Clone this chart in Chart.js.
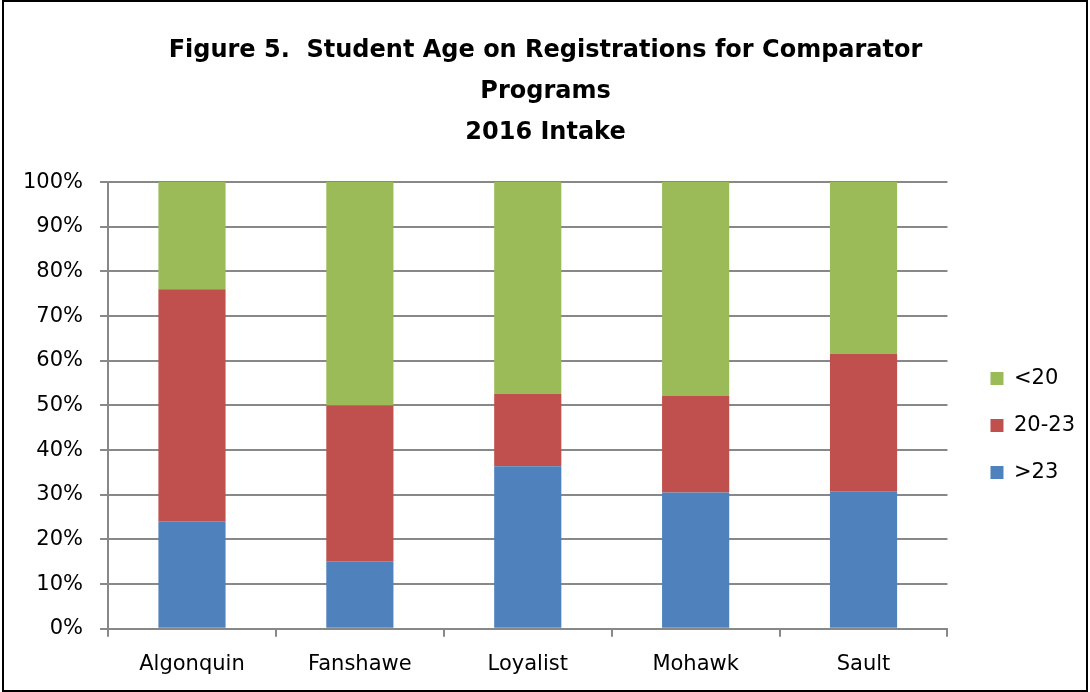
<!DOCTYPE html>
<html>
<head>
<meta charset="utf-8">
<script src="https://cdn.jsdelivr.net/npm/chart.js@4"></script>
<style>
    body { margin: 0; background: #fff; }
    #wrap { position: relative; width: 1090px; height: 692px; }
    #frame { position: absolute; left: 2px; top: 0; right: 2px; bottom: 0; border: 2px solid #000; pointer-events: none; }
</style>
</head>
<body>
<div id="wrap">
    <canvas id="chart" width="1090" height="692"></canvas>
    <div id="frame"></div>
</div>
<script>
// categories and series (percent of registrations)
const colleges = ['Algonquin', 'Fanshawe', 'Loyalist', 'Mohawk', 'Sault'];
const over23 = [24.1, 15.1, 36.4, 30.5, 30.8];
const age20to23 = [51.9, 34.9, 16.2, 21.6, 30.8];
const under20 = [24.0, 50.0, 47.4, 47.9, 38.4];
const yTicks = [0, 10, 20, 30, 40, 50, 60, 70, 80, 90, 100];

const titleLines = ['Figure 5.  Student Age on Registrations for Comparator', 'Programs', '2016 Intake'];

const font = 'DejaVu Sans';
const gridColor = '#888888';

const ctx = document.getElementById('chart').getContext('2d');
new Chart(ctx, {
    type: 'bar',
    data: {
        labels: colleges,
        datasets: [
            { label: '>23', data: over23, backgroundColor: '#4F81BD' },
            { label: '20-23', data: age20to23, backgroundColor: '#C0504D' },
            { label: '<20', data: under20, backgroundColor: '#9BBB59' }
        ]
    },
    options: {
        responsive: false,
        animation: false,
        layout: { padding: { left: 6, right: 5, bottom: 0, top: 0 } },
        datasets: { bar: { categoryPercentage: 1.0, barPercentage: 0.4 } },
        plugins: {
            title: {
                display: true,
                text: titleLines,
                color: '#000',
                font: { family: font, size: 24, weight: 'bold', lineHeight: 1.71 },
                padding: { top: 30, bottom: 29 }
            },
            legend: {
                position: 'right',
                fullSize: false,
                reverse: true,
                // blank title just pushes the entries down
                title: { display: true, text: ' ', font: { size: 10 }, padding: 14 },
                labels: {
                    color: '#000',
                    font: { family: font, size: 21 },
                    boxWidth: 13,
                    boxHeight: 13,
                    padding: 26
                }
            },
            tooltip: { enabled: false }
        },
        scales: {
            x: {
                stacked: true,
                grid: { drawOnChartArea: false, offset: true, color: gridColor, lineWidth: 2, tickLength: 8 },
                border: { color: gridColor, width: 2 },
                ticks: { color: '#000', font: { family: font, size: 21 }, padding: 15 }
            },
            y: {
                stacked: true,
                min: 0,
                max: 100,
                afterBuildTicks: axis => { axis.ticks = yTicks.map(v => ({ value: v })); },
                grid: { color: gridColor, lineWidth: 2, tickLength: 8 },
                border: { color: gridColor, width: 2 },
                ticks: {
                    color: '#000',
                    font: { family: font, size: 21 },
                    padding: 17,
                    callback: v => v + '%'
                }
            },
            // empty spacer between plot and legend
            gap: {
                type: 'linear',
                axis: 'y',
                position: 'right',
                grid: { display: false },
                border: { display: false },
                ticks: { display: false },
                afterFit: s => { s.width = 17; }
            }
        }
    }
});
</script>
</body>
</html>
